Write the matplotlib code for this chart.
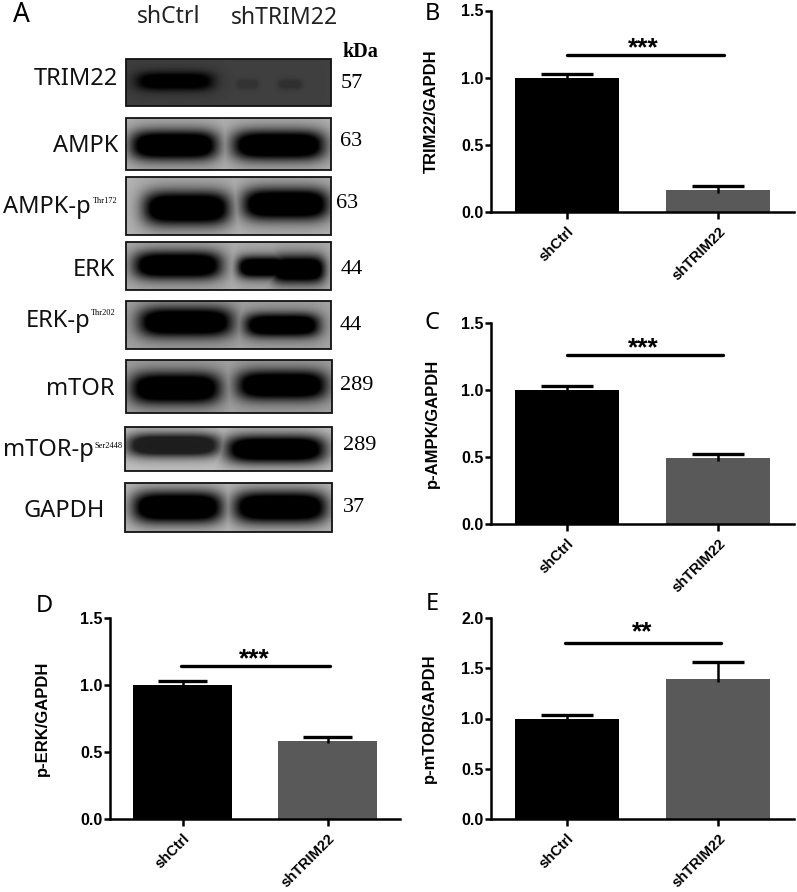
import numpy as np
import matplotlib
matplotlib.use("Agg")
import matplotlib.pyplot as plt
from matplotlib.patches import Rectangle

W, H = 797, 892
groups = ["shCtrl", "shTRIM22"]
GREY = "#595959"

# blot lanes: name, kDa, box, background, bands (x0, x1, y, half height, darkness)
blot_names = ["TRIM22", "AMPK", "AMPK-p", "ERK", "ERK-p", "mTOR", "mTOR-p", "GAPDH"]
blot_kda = ["57", "63", "63", "44", "44", "289", "289", "37"]
blot_boxes = [(126, 331, 59, 106), (126, 331, 118, 170), (126, 331, 177, 235), (126, 331, 242, 290),
              (126, 331, 301, 349), (126, 332, 360, 413), (125, 332, 427, 471), (125, 332, 483, 532)]
blot_bg = [0.25, 0.72, 0.72, 0.70, 0.66, 0.66, 0.78, 0.76]
blot_bands = [
    [(136, 213, 81, 9, 1.0), (236, 258, 84, 5, 0.16), (278, 302, 84, 5, 0.2)],
    [(130, 218, 145, 15, 1.0), (232, 325, 145, 15, 1.0)],
    [(143, 230, 208, 17, 1.0), (242, 329, 204, 16, 1.0)],
    [(133, 222, 265, 14, 1.0), (237, 290, 267, 11, 1.0), (270, 325, 269, 14, 1.0)],
    [(138, 233, 322, 15, 1.0), (244, 320, 325, 12, 1.0)],
    [(130, 221, 388, 16, 1.0), (236, 327, 385, 15, 1.0)],
    [(126, 221, 445, 12, 0.8), (225, 326, 449, 14, 1.0)],
    [(132, 223, 507, 16, 1.0), (233, 327, 507, 16, 1.0)],
]
kda_x = [341, 340, 336, 341, 340, 340, 343, 343]
kda_y = [84, 142, 204, 269, 325, 386, 446, 507]
label_right = [118, 118, 91, 115, 90, 115, 94, 105]
label_y = [79, 146, 207, 270, 321, 389, 450, 511]
sup_text = {"AMPK-p": "Thr172", "ERK-p": "Thr202", "mTOR-p": "Ser2448"}
sup_pos = {"AMPK-p": (93, 201), "ERK-p": (91, 313), "mTOR-p": (95, 446)}

# bar panels
panel_names = ["B", "C", "D", "E"]
panel_ylabels = ["TRIM22/GAPDH", "p-AMPK/GAPDH", "p-ERK/GAPDH", "p-mTOR/GAPDH"]
panel_means = [[1.0, 0.165], [1.0, 0.49], [1.0, 0.585], [1.0, 1.39]]
panel_errs = [[0.03, 0.03], [0.03, 0.035], [0.03, 0.03], [0.03, 0.17]]
panel_ymax = [1.5, 1.5, 1.5, 2.0]
panel_yticks = [[0, 0.5, 1.0, 1.5], [0, 0.5, 1.0, 1.5], [0, 0.5, 1.0, 1.5], [0, 0.5, 1.0, 1.5, 2.0]]
panel_sig = ["***", "***", "***", "**"]
panel_sig_y = [1.168, 1.26, 1.144, 1.75]
panel_sig_x = [(0.0, 1.035), (0.0, 1.03), (-0.01, 1.02), (-0.01, 1.02)]
star_offset = [-4, -4, -4, -0.5]
# left, right, top, bottom of the axes in pixels
panel_boxes = [(491, 794, 10.5, 212), (491, 794, 323, 524), (110, 400, 618, 819), (491, 794, 618, 819)]
panel_letter_pos = [(432, 14), (432, 323), (44, 606), (432, 604)]
panel_ylabel_x = [439, 440, 50, 437]


def blot_image(box, bg, bands):
    x0, x1, y0, y1 = box
    xx, yy = np.meshgrid(np.arange(x0, x1, 0.5), np.arange(y0, y1, 0.5))
    dark = np.zeros_like(xx)
    halo = np.zeros_like(xx)
    for bx0, bx1, by, bh, amount in bands:
        cx, hw = (bx0 + bx1) / 2, (bx1 - bx0) / 2
        r = (np.abs(xx - cx) / hw) ** 5 + (np.abs(yy - by) / bh) ** 2.4
        dark = np.maximum(dark, np.minimum(amount, 1.6 * amount * np.exp(-r * 1.2)))
        halo = np.maximum(halo, amount * np.exp(-((np.abs(xx - cx) / (hw * 1.2)) ** 4 + ((yy - by) / (bh * 1.7)) ** 2)))
    return np.clip(bg * (1 - 0.3 * halo) * (1 - dark), 0, 1)


fig = plt.figure(figsize=(W / 100, H / 100), dpi=100)
bg_ax = fig.add_axes([0, 0, 1, 1])
bg_ax.set_xlim(0, W)
bg_ax.set_ylim(H, 0)
bg_ax.axis("off")

for i, name in enumerate(blot_names):
    box = blot_boxes[i]
    img = blot_image(box, blot_bg[i], blot_bands[i])
    bg_ax.imshow(img, cmap="gray", vmin=0, vmax=1, extent=(box[0], box[1], box[3], box[2]),
                 interpolation="bilinear", aspect="auto")
    bg_ax.add_patch(Rectangle((box[0], box[2]), box[1] - box[0], box[3] - box[2], fill=False, ec="#111111", lw=1.3))
    bg_ax.text(label_right[i], label_y[i], name, ha="right", va="center", fontsize=17, family="Noto Sans", color="#111111")
    bg_ax.text(kda_x[i], kda_y[i], blot_kda[i], ha="left", va="center", fontsize=16, family="Liberation Serif")
    if name in sup_text:
        bg_ax.text(sup_pos[name][0], sup_pos[name][1], sup_text[name], ha="left", va="center", fontsize=6,
                   family="Liberation Serif")
bg_ax.set_xlim(0, W)
bg_ax.set_ylim(H, 0)

bg_ax.text(21, 15, "A", ha="center", va="center", fontsize=19, family="Noto Sans")
bg_ax.text(169, 17, groups[0], ha="center", va="center", fontsize=16.5, family="Noto Sans", color="#222222")
bg_ax.text(285, 18, groups[1], ha="center", va="center", fontsize=16.5, family="Noto Sans", color="#222222")
bg_ax.text(342, 52, "kDa", ha="left", va="center", fontsize=14.5, family="Liberation Serif", weight="bold")

for i, letter in enumerate(panel_names):
    left, right, top, bottom = panel_boxes[i]
    ax = fig.add_axes([left / W, 1 - bottom / H, (right - left) / W, (bottom - top) / H])
    ax.patch.set_alpha(0)
    ax.bar([0, 1], panel_means[i], width=0.685, color=["black", GREY])
    scale = panel_ymax[i] / 1.5
    for x, m, e in zip([0, 1], panel_means[i], panel_errs[i]):
        ax.vlines(x, m - 0.02 * scale, m + e, color="black", lw=1.8)
        ax.hlines(m + e, x - 0.17, x + 0.17, color="black", lw=2.4)
    ax.set_xlim(-0.5, 1.5)
    ax.set_ylim(0, panel_ymax[i])
    ax.set_yticks(panel_yticks[i], ["%.1f" % t for t in panel_yticks[i]])
    ax.set_xticks([0, 1], groups)
    for spine in ["top", "right"]:
        ax.spines[spine].set_visible(False)
    for spine in ["left", "bottom"]:
        ax.spines[spine].set_linewidth(1.8)
    ax.tick_params(axis="y", length=4.5, width=1.8, pad=1)
    ax.tick_params(axis="x", length=5, width=1.8, pad=4)
    for lab in ax.get_yticklabels():
        lab.set(fontsize=11.5, family="Liberation Sans", weight="bold")
    for lab in ax.get_xticklabels():
        lab.set(fontsize=10.5, family="Liberation Sans", weight="bold", rotation=45, ha="right", va="top",
                rotation_mode="anchor")
    ax.set_ylabel(panel_ylabels[i], fontsize=12, family="Liberation Sans", weight="bold")
    ax.yaxis.set_label_coords((panel_ylabel_x[i] - left) / (right - left), 0.5)
    sx0, sx1 = panel_sig_x[i]
    ax.plot([sx0, sx1], [panel_sig_y[i], panel_sig_y[i]], color="black", lw=2.4, solid_capstyle="round", clip_on=False)
    ax.annotate(panel_sig[i], ((sx0 + sx1) / 2, panel_sig_y[i]), xytext=(-1, star_offset[i]),
                textcoords="offset points", ha="center", va="bottom", fontsize=19,
                family="Liberation Sans", weight="bold")
    bg_ax.text(panel_letter_pos[i][0], panel_letter_pos[i][1], letter, ha="center", va="center", fontsize=17,
               family="Noto Sans")

fig.savefig("out.png", dpi=100)
